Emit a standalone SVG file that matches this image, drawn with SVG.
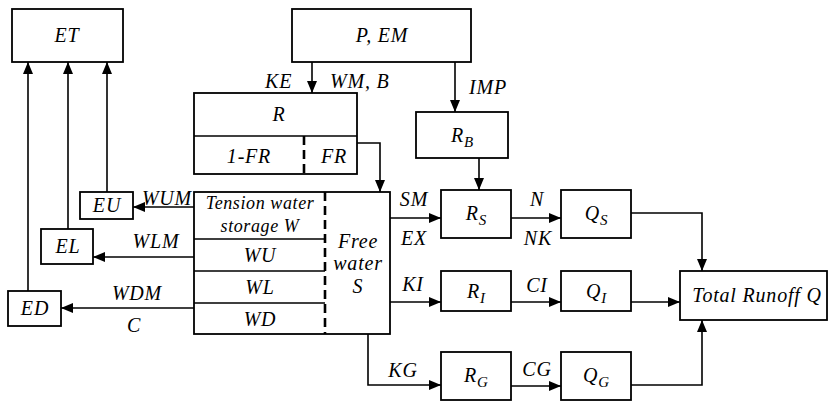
<svg xmlns="http://www.w3.org/2000/svg" width="829" height="410" viewBox="0 0 829 410">
<style>
.b{fill:#fff;stroke:#000;stroke-width:1.8}
.l{fill:none;stroke:#000;stroke-width:1.6}
.d{fill:none;stroke:#000;stroke-width:2.6;stroke-dasharray:9,5}
.a{marker-end:url(#ah)}
text{font-family:'Liberation Serif','DejaVu Serif',serif;font-style:italic;font-size:20px;letter-spacing:0.8px;fill:#000}
.m{text-anchor:middle}
.s{font-size:15px;letter-spacing:0}
.t{font-size:18px;letter-spacing:0.6px}
</style>
<defs>
<marker id="ah" viewBox="0 0 12 10" refX="12" refY="5" markerWidth="12" markerHeight="10" markerUnits="userSpaceOnUse" orient="auto">
<path d="M0,0 L12,5 L0,10 z" fill="#000"/>
</marker>
</defs>
<g id="connectors">
<path class="l a" d="M28,291 V62"/>
<path class="l a" d="M68,229 V62"/>
<path class="l a" d="M107,192 V62"/>
<path class="l a" d="M312,62 V93"/>
<path class="l a" d="M455,62 V112"/>
<path class="l a" d="M357,143 H380 V192"/>
<path class="l a" d="M194,207 H133"/>
<path class="l a" d="M194,257 H93"/>
<path class="l a" d="M194,308 H61"/>
<path class="l a" d="M390,218 H441"/>
<path class="l a" d="M479,158 V190"/>
<path class="l a" d="M511,218 H561"/>
<path class="l a" d="M631,213 H702 V271"/>
<path class="l a" d="M390,302 H441"/>
<path class="l a" d="M511,302 H561"/>
<path class="l a" d="M631,302 H680"/>
<path class="l a" d="M368,334 V385 H441"/>
<path class="l a" d="M511,386 H561"/>
<path class="l a" d="M631,385 H702 V320"/>
<text x="265" y="88">KE</text>
<text x="330" y="88">WM, B</text>
<text x="469" y="94">IMP</text>
<text class="m" x="167" y="205">WUM</text>
<text class="m" x="156" y="248">WLM</text>
<text class="m" x="137" y="300">WDM</text>
<text class="m" x="134" y="332">C</text>
<text class="m" x="414" y="206">SM</text>
<text class="m" x="414" y="245">EX</text>
<text class="m" x="413" y="291">KI</text>
<text class="m" x="403" y="377">KG</text>
<text class="m" x="537" y="206">N</text>
<text class="m" x="538" y="245">NK</text>
<text class="m" x="537" y="292">CI</text>
<text class="m" x="537" y="376">CG</text>
</g>
<g id="ET"><rect class="b" x="12" y="9" width="111" height="53"/><text class="m" x="67" y="42">ET</text></g>
<g id="PEM"><rect class="b" x="292" y="9" width="179" height="53"/><text class="m" x="382" y="42">P, EM</text></g>
<g id="R">
<rect class="b" x="194" y="93" width="163" height="81"/>
<path class="l" d="M194,136 H357"/>
<path class="d" d="M304,136 V174"/>
<text class="m" x="279" y="121">R</text>
<text class="m" x="249" y="163">1-FR</text>
<text class="m" x="334" y="163">FR</text>
</g>
<g id="RB"><rect class="b" x="416" y="112" width="92" height="46"/><text class="m" x="462" y="142">R<tspan class="s" dy="5">B</tspan></text></g>
<g id="storage">
<rect class="b" x="194" y="192" width="196" height="142"/>
<path class="l" d="M194,239 H325 M194,271 H325 M194,303 H325"/>
<path class="d" d="M325,192 V334"/>
<text class="m t" x="260" y="209">Tension water</text>
<text class="m t" x="260" y="232">storage W</text>
<text class="m" x="260" y="262">WU</text>
<text class="m" x="260" y="294">WL</text>
<text class="m" x="260" y="326">WD</text>
<text class="m" x="358" y="248">Free</text>
<text class="m" x="358" y="270">water</text>
<text class="m" x="358" y="293">S</text>
</g>
<g id="EU"><rect class="b" x="80" y="192" width="53" height="27"/><text class="m" x="107" y="212">EU</text></g>
<g id="EL"><rect class="b" x="41" y="229" width="52" height="35"/><text class="m" x="68" y="253">EL</text></g>
<g id="ED"><rect class="b" x="8" y="291" width="53" height="35"/><text class="m" x="35" y="315">ED</text></g>
<g id="RS"><rect class="b" x="441" y="190" width="70" height="48"/><text class="m" x="476" y="220">R<tspan class="s" dy="5">S</tspan></text></g>
<g id="QS"><rect class="b" x="561" y="190" width="70" height="48"/><text class="m" x="596" y="220">Q<tspan class="s" dy="5">S</tspan></text></g>
<g id="RI"><rect class="b" x="441" y="271" width="70" height="40"/><text class="m" x="476" y="298">R<tspan class="s" dy="5">I</tspan></text></g>
<g id="QI"><rect class="b" x="561" y="271" width="70" height="40"/><text class="m" x="596" y="298">Q<tspan class="s" dy="5">I</tspan></text></g>
<g id="RG"><rect class="b" x="441" y="352" width="70" height="48"/><text class="m" x="476" y="382">R<tspan class="s" dy="5">G</tspan></text></g>
<g id="QG"><rect class="b" x="561" y="352" width="70" height="48"/><text class="m" x="596" y="382">Q<tspan class="s" dy="5">G</tspan></text></g>
<g id="Total"><rect class="b" x="680" y="271" width="147" height="49"/><text class="m" x="757" y="302">Total Runoff  Q</text></g>
</svg>
